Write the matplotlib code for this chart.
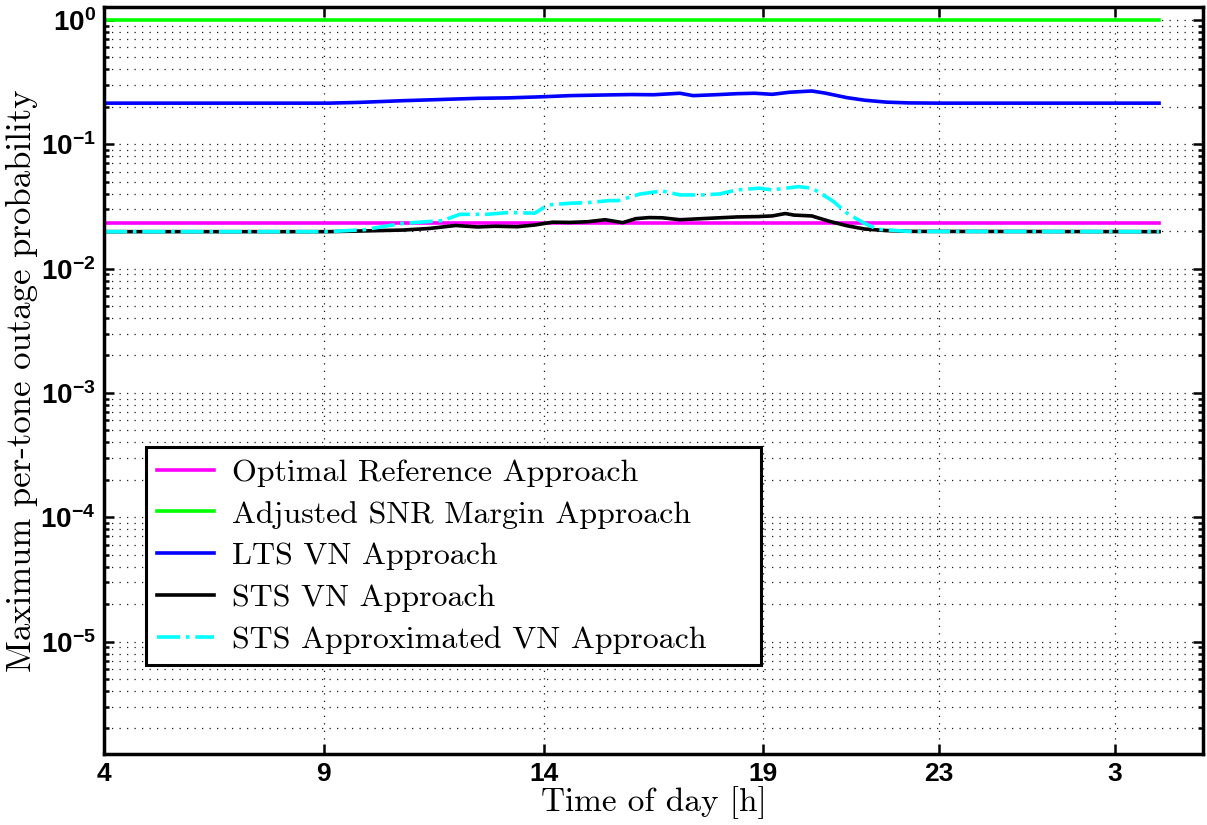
import numpy as np
import matplotlib
matplotlib.use('Agg')
import matplotlib.pyplot as plt
from matplotlib.ticker import FixedLocator, LogLocator, FuncFormatter, NullFormatter

# hours since midnight (28 = 4 h next day)
flat_h = [4, 28]
opt_ref = [0.0231, 0.0231]
adj_snr = [0.99, 0.99]

lts_h = [4, 9.1, 9.8, 10.8, 11.5, 12.5, 13.2, 14.0, 14.6, 15.4, 16.0, 16.5, 17.1, 17.4,
         17.9, 18.4, 18.8, 19.2, 19.6, 20.1, 20.4, 20.9, 21.3, 21.8, 22.3, 23.0, 28]
lts_vn = [0.214, 0.214, 0.217, 0.224, 0.228, 0.234, 0.236, 0.241, 0.246, 0.249, 0.251, 0.250,
          0.257, 0.246, 0.250, 0.255, 0.257, 0.252, 0.262, 0.268, 0.258, 0.237, 0.226, 0.218,
          0.215, 0.214, 0.214]

sts_h = [4, 9.1, 10.0, 10.8, 11.4, 12.0, 12.5, 12.9, 13.4, 13.8, 14.2, 14.6, 15.0, 15.4,
         15.8, 16.1, 16.4, 16.7, 17.1, 17.5, 17.9, 18.4, 18.9, 19.2, 19.5, 19.7, 20.1,
         20.5, 20.9, 21.3, 21.8, 22.4, 28]
sts_vn = [0.0198, 0.0198, 0.0201, 0.0204, 0.0210, 0.0222, 0.0216, 0.0219, 0.0217, 0.0224,
          0.0236, 0.0235, 0.0238, 0.0247, 0.0234, 0.0252, 0.0257, 0.0256, 0.0247, 0.0251,
          0.0255, 0.0260, 0.0262, 0.0265, 0.0277, 0.0269, 0.0265, 0.0240, 0.0221, 0.0208,
          0.0202, 0.0199, 0.0198]

apx_h = [4, 9.1, 9.9, 10.8, 11.7, 12.1, 12.7, 13.2, 13.8, 14.1, 14.6, 15.0, 15.5, 15.7,
         16.2, 16.7, 17.1, 17.6, 18.0, 18.4, 18.9, 19.2, 19.8, 20.1, 20.3, 20.6, 20.9,
         21.3, 21.6, 22.3, 28]
apx_vn = [0.0198, 0.0198, 0.0205, 0.0231, 0.0243, 0.0273, 0.0273, 0.0282, 0.0279, 0.0325,
          0.0335, 0.0339, 0.0352, 0.0352, 0.0398, 0.0421, 0.0391, 0.0391, 0.0398, 0.0429,
          0.0443, 0.0429, 0.0456, 0.0443, 0.0404, 0.0345, 0.0279, 0.0231, 0.0207, 0.0199,
          0.0198]

tick_pos = [4, 9, 14, 19, 23, 27]
tick_lab = ['4', '9', '14', '19', '23', '3']
ytick_pos = [1e-5, 1e-4, 1e-3, 1e-2, 1e-1, 1e0]

plt.rcParams['mathtext.fontset'] = 'custom'
plt.rcParams['mathtext.rm'] = 'Liberation Sans:bold'
plt.rcParams['mathtext.bf'] = 'Liberation Sans:bold'

fig = plt.figure(figsize=(12.07, 8.25), dpi=100)
ax = fig.add_axes([104/1207, 1 - 754/825, 1099/1207, 747/825])

lw = 2.6
ax.semilogy(flat_h, opt_ref, color='#ff00ff', lw=lw, label='Optimal Reference Approach')
ax.semilogy(flat_h, adj_snr, color='#00ff00', lw=lw, label='Adjusted SNR Margin Approach')
ax.semilogy(lts_h, lts_vn, color='#0000ff', lw=lw, label='LTS VN Approach')
ax.semilogy(sts_h, sts_vn, color='k', lw=lw, label='STS VN Approach')
ax.semilogy(apx_h, apx_vn, color='#00ffff', lw=lw, ls='-.', label='STS Approximated VN Approach')

ax.set_xlim(4, 29)
ax.set_ylim(1.245e-6, 1.27)
ax.set_xticks(tick_pos)
ax.set_xticklabels(tick_lab, fontsize=19, fontweight='bold', family='Liberation Sans')
ax.yaxis.set_major_locator(FixedLocator(ytick_pos))
ax.yaxis.set_major_formatter(FuncFormatter(lambda v, p: r'$\mathbf{10^{%d}}$' % round(np.log10(v))))
ax.yaxis.set_minor_locator(LogLocator(base=10, subs=np.arange(2, 10), numticks=12))
ax.yaxis.set_minor_formatter(NullFormatter())
ax.tick_params(axis='y', labelsize=20)

ax.tick_params(which='both', direction='in', top=True, right=True, width=1.8)
ax.tick_params(which='major', length=7, pad=6)
ax.tick_params(which='minor', length=3.5)
for s in ax.spines.values():
    s.set_linewidth(2.5)

ax.grid(which='major', axis='both', ls=(0, (1, 5)), color='0.1', lw=0.9)
ax.grid(which='minor', axis='y', ls=(0, (1, 5)), color='0.1', lw=0.9)

ax.set_xlabel('Time of day [h]', family='cmr10', fontsize=24, labelpad=0)
ax.set_ylabel('Maximum per-tone outage probability', family='cmr10', fontsize=25, labelpad=2)

leg = ax.legend(loc='lower left', bbox_to_anchor=(0.038, 0.119, 0.56, 0.29), mode='expand',
                borderaxespad=0, prop={'family': 'cmr10', 'size': 23}, fancybox=False,
                framealpha=1, edgecolor='k', handlelength=1.8, handletextpad=0.55,
                labelspacing=0.42, borderpad=0.35)
leg.get_frame().set_linewidth(2.2)

fig.savefig('out.png', dpi=100)
